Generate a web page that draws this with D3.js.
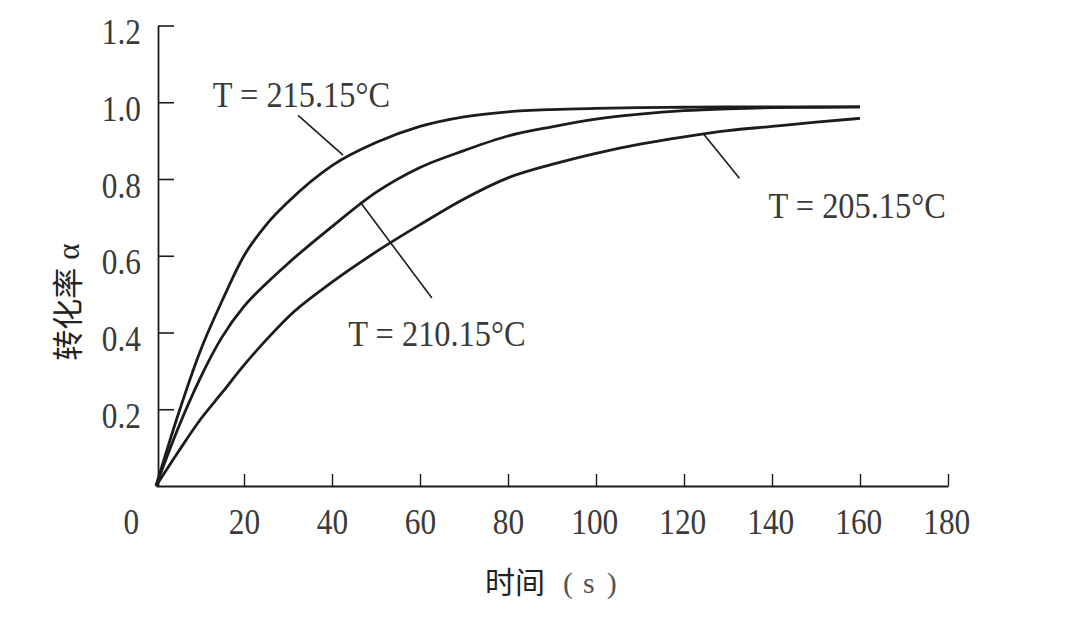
<!DOCTYPE html>
<html><head><meta charset="utf-8">
<script src="https://cdn.jsdelivr.net/npm/d3@7"></script>
<style>
html,body{margin:0;padding:0;background:#fff;}
svg{display:block;}
</style></head>
<body>
<svg id="chart" width="1084" height="631"></svg>
<script>
// ---- data ----
const time = [0,5,10,15,20,25,30,40,50,60,70,80,90,100,110,120,130,140,150,160];
const alpha215 = [0,0.185,0.35,0.482,0.6,0.68,0.74,0.835,0.895,0.937,0.962,0.975,0.981,0.984,0.986,0.987,0.988,0.988,0.988,0.988];
const alpha210 = [0,0.15,0.28,0.388,0.468,0.527,0.58,0.676,0.765,0.83,0.874,0.912,0.936,0.956,0.969,0.978,0.983,0.986,0.987,0.988];
const alpha205 = [0,0.088,0.172,0.243,0.315,0.38,0.44,0.531,0.61,0.681,0.748,0.803,0.838,0.867,0.891,0.91,0.926,0.937,0.948,0.958];
const seriesNames = ["T = 215.15°C","T = 210.15°C","T = 205.15°C"];
const xTicks = [0,20,40,60,80,100,120,140,160,180];
const yTicks = [0.2,0.4,0.6,0.8,1.0,1.2];
// label anchor (t, alpha) and leader line ends, in data units
const labelPos = [[12.9,0.988],[43.7,0.364],[139.2,0.698]];
const leaderFrom = [[32.3,0.966],[46.4,0.740],[124.4,0.918]];
const leaderTo = [[42.5,0.862],[62.7,0.490],[132.6,0.802]];

const svg = d3.select("#chart");
const x = d3.scaleLinear().domain([0,180]).range([156,948]);
const y = d3.scaleLinear().domain([0,1.2]).range([486,25.5]);
const ink = "#1c1c1c";
const txt = "#3a3a3a";
const serif = "'Liberation Serif','Times New Roman',serif";
const sx = 0.87;

// x axis
const gx = svg.append("g").attr("transform",`translate(0,${y(0)})`)
  .call(d3.axisBottom(x).tickValues(xTicks).tickFormat(d3.format("d"))
    .tickSizeInner(-12).tickSizeOuter(0).tickPadding(0));
gx.select(".domain").attr("stroke",ink).attr("stroke-width",1.8);
gx.selectAll(".tick line").attr("stroke",ink).attr("stroke-width",1.4)
  .attr("display",d=>d===0?"none":null);
gx.selectAll(".tick text").attr("font-family",serif).attr("font-size",36)
  .attr("fill",txt).attr("y",0).attr("dy",48)
  .attr("transform",`scale(${sx},1)`)
  .attr("dx",d=>d===0?-29:(d>=100?-2:0));

// y axis
const gy = svg.append("g").attr("transform",`translate(${x(0)+2},0)`)
  .call(d3.axisLeft(y).tickValues(yTicks).tickFormat(d3.format(".1f"))
    .tickSizeInner(-16).tickSizeOuter(0).tickPadding(17));
gy.select(".domain").attr("stroke",ink).attr("stroke-width",1.8);
gy.selectAll(".tick line").attr("stroke",ink).attr("stroke-width",1.6);
gy.selectAll(".tick text").attr("font-family",serif).attr("font-size",36)
  .attr("fill",txt).attr("dy",18).attr("x",-17/sx)
  .attr("transform",`scale(${sx},1)`);

// curves
const line = d3.line().x((d,i)=>x(time[i])).y(d=>y(d)).curve(d3.curveMonotoneX);
[alpha215,alpha210,alpha205].forEach(s=>{
  svg.append("path").datum(s).attr("d",line).attr("fill","none")
    .attr("stroke",ink).attr("stroke-width",2.8).attr("stroke-linejoin","round");
});

// annotations
seriesNames.forEach((name,i)=>{
  svg.append("line")
    .attr("x1",x(leaderFrom[i][0])).attr("y1",y(leaderFrom[i][1]))
    .attr("x2",x(leaderTo[i][0])).attr("y2",y(leaderTo[i][1]))
    .attr("stroke",ink).attr("stroke-width",1.6);
  svg.append("text")
    .attr("transform",`translate(${x(labelPos[i][0])},${y(labelPos[i][1])}) scale(0.9,1)`)
    .attr("font-family",serif).attr("font-size",36).attr("fill",txt)
    .text(name);
});

// axis titles
const xt = svg.append("text").attr("x",485).attr("y",593).attr("fill","#222");
xt.append("tspan").attr("font-family","'Noto Sans CJK SC',sans-serif").attr("font-size",30).text("时间");
xt.append("tspan").attr("font-family",serif).attr("font-size",30).attr("fill","#555").attr("dx",18).text("(");
xt.append("tspan").attr("font-family",serif).attr("font-size",30).attr("fill","#555").attr("dx",10).text("s");
xt.append("tspan").attr("font-family",serif).attr("font-size",30).attr("fill","#555").attr("dx",12).text(")");

const yt = svg.append("text").attr("transform","translate(79,302) rotate(-90)")
  .attr("text-anchor","middle").attr("fill","#222");
yt.append("tspan").attr("font-family","'Noto Sans CJK SC',sans-serif").attr("font-size",31).text("转化率");
yt.append("tspan").attr("font-family",serif).attr("font-size",31).attr("dx",8).text("α");
</script>
</body></html>
